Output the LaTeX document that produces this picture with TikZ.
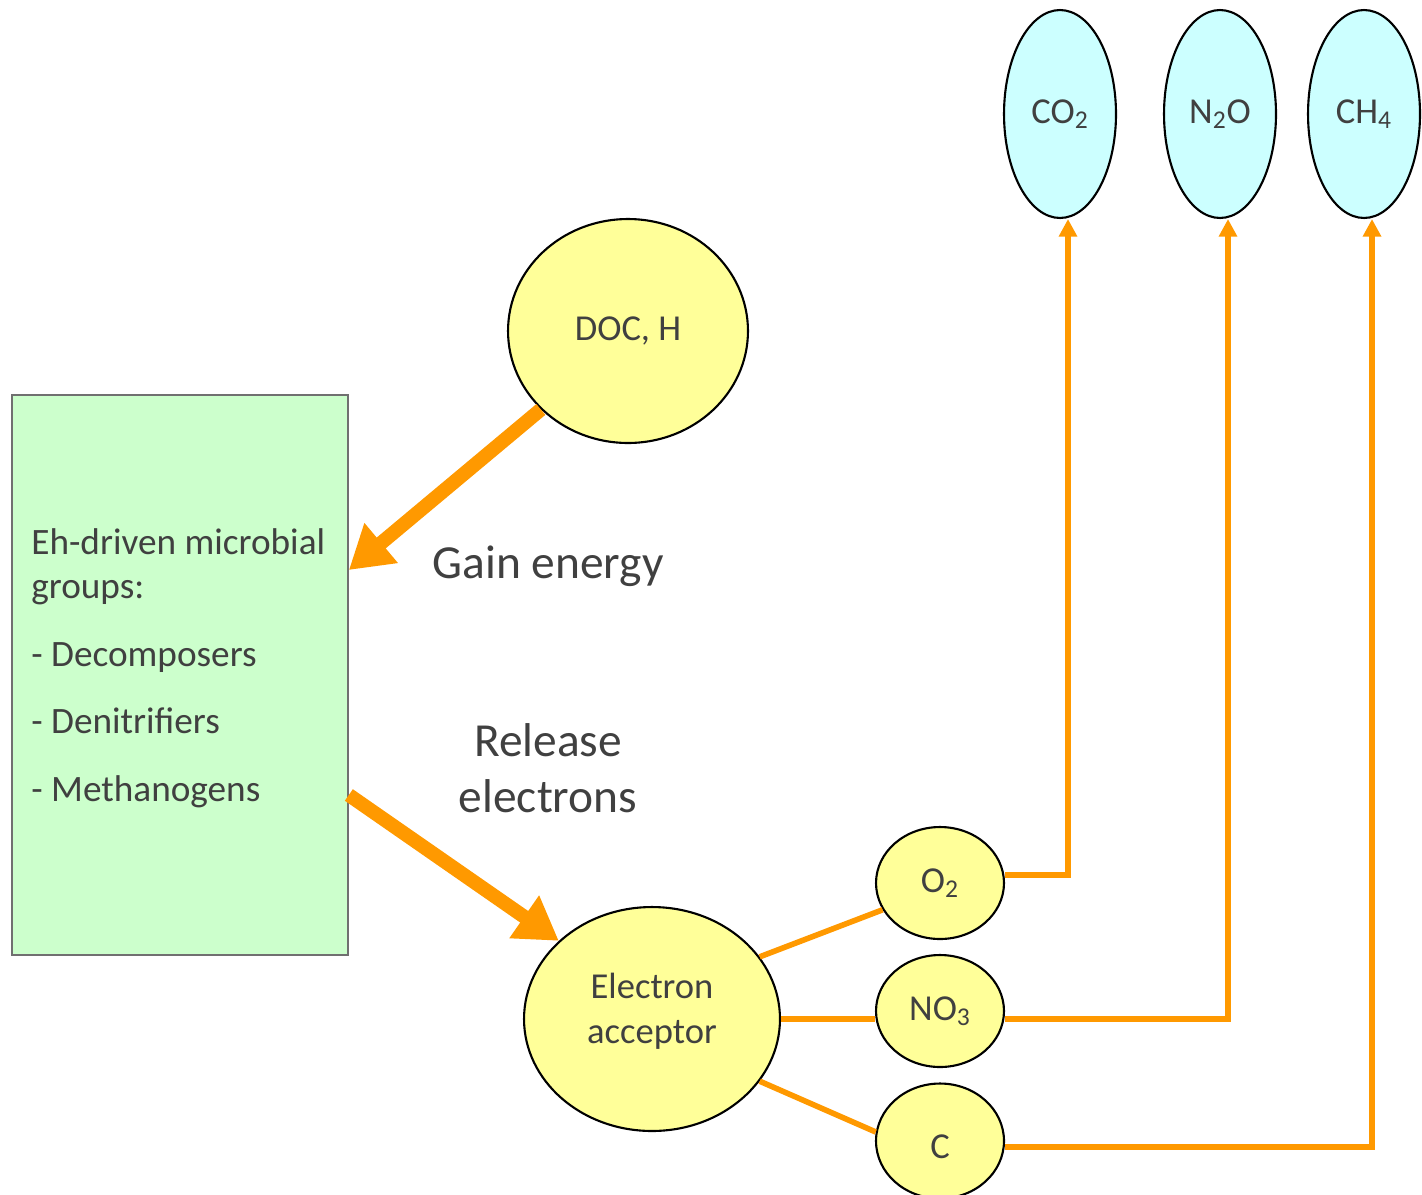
\documentclass[tikz,border=0pt]{standalone}
\usepackage{fontspec}
\setmainfont{Carlito}
\usetikzlibrary{shapes.geometric,arrows.meta,calc}
\definecolor{txt}{HTML}{404040}
\definecolor{org}{HTML}{FF9900}
\definecolor{yel}{HTML}{FFFF99}
\definecolor{cyn}{HTML}{CCFFFF}
\definecolor{grn}{HTML}{CCFFCC}
\definecolor{bord}{HTML}{707070}
\tikzset{
  yell/.style={ellipse,draw=black,line width=1.2pt,fill=yel,inner sep=0pt,text=txt,
    font=\fontsize{20.8pt}{25.6pt}\selectfont,align=center},
  gas/.style={ellipse,draw=black,line width=1.2pt,fill=cyn,inner sep=0pt,text=txt,
    font=\fontsize{20.8pt}{25pt}\selectfont,minimum width=2.24cm,minimum height=4.16cm},
  bigarrow/.style={draw=org,line width=8pt,-{Triangle[width=28pt,length=24pt]}},
  conn/.style={draw=org,line width=3.2pt},
  connarrow/.style={conn,-{Triangle[width=10pt,length=10pt]}},
  label/.style={text=txt,font=\fontsize{27pt}{32pt}\selectfont,align=center},
  plain/.style={text=txt,font=\fontsize{20.8pt}{25.6pt}\selectfont,align=center,inner sep=0pt}
}
\begin{document}
\begin{tikzpicture}[x=0.02cm,y=-0.02cm]
\useasboundingbox (0,0) rectangle (1422,1194);
% green box
\node[draw=bord,line width=1pt,fill=grn,minimum width=6.72cm,minimum height=11.2cm,inner sep=0pt] (box) at (180,675) {};
\node[anchor=north west,text=txt,align=left,inner sep=0pt,
  font=\fontsize{21.2pt}{25.3pt}\selectfont] (boxtext) at (31,528)
  {Eh-driven microbial\\ groups:\\[13.5pt] - Decomposers\\[12.5pt] - Denitrifiers\\[13.5pt] - Methanogens};
% ellipses
\node[yell,minimum width=4.8cm,minimum height=4.48cm] (doc) at (628,331) {DOC, H};
\node[yell,minimum width=5.12cm,minimum height=4.48cm] (ea) at (652,1019) {};
\node[plain] (eatext) at (652,1011) {Electron\\acceptor};
\node[yell,minimum width=2.56cm,minimum height=2.24cm] (o2) at (940,883) {O\textsubscript{2}};
\node[yell,minimum width=2.56cm,minimum height=2.24cm] (no3) at (940,1011) {NO\textsubscript{3}};
\node[yell,minimum width=2.56cm,minimum height=2.3cm] (c) at (940,1141) {};
\node[plain] (ctext) at (940,1147) {C};
\node[gas] (co2) at (1060,114) {CO\textsubscript{2}};
\node[gas] (n2o) at (1220,114) {N\textsubscript{2}O};
\node[gas] (ch4) at (1364,114) {CH\textsubscript{4}};
% labels
\node[label] (gain) at (548,566) {Gain energy};
\node[label] (rel) at (548,768) {Release\\electrons};
% big arrows
\draw[bigarrow] (doc.222) -- ([yshift=2.1cm]box.east);
\draw[bigarrow] ([yshift=-2.4cm]box.east) -- (ea.140);
% connectors
\draw[conn] (ea.30) -- (o2.205);
\draw[conn] (ea.east) -- (ea.east -| no3.west);
\draw[conn] (ea.-30) -- (c.172);
\draw[connarrow] ([yshift=0.16cm]o2.east) -| ([xshift=0.16cm]co2.south);
\draw[connarrow] ([yshift=-0.16cm]no3.east) -| ([xshift=0.16cm]n2o.south);
\draw[connarrow] ([yshift=-0.12cm]c.east) -| ([xshift=0.16cm]ch4.south);
\end{tikzpicture}
\end{document}
